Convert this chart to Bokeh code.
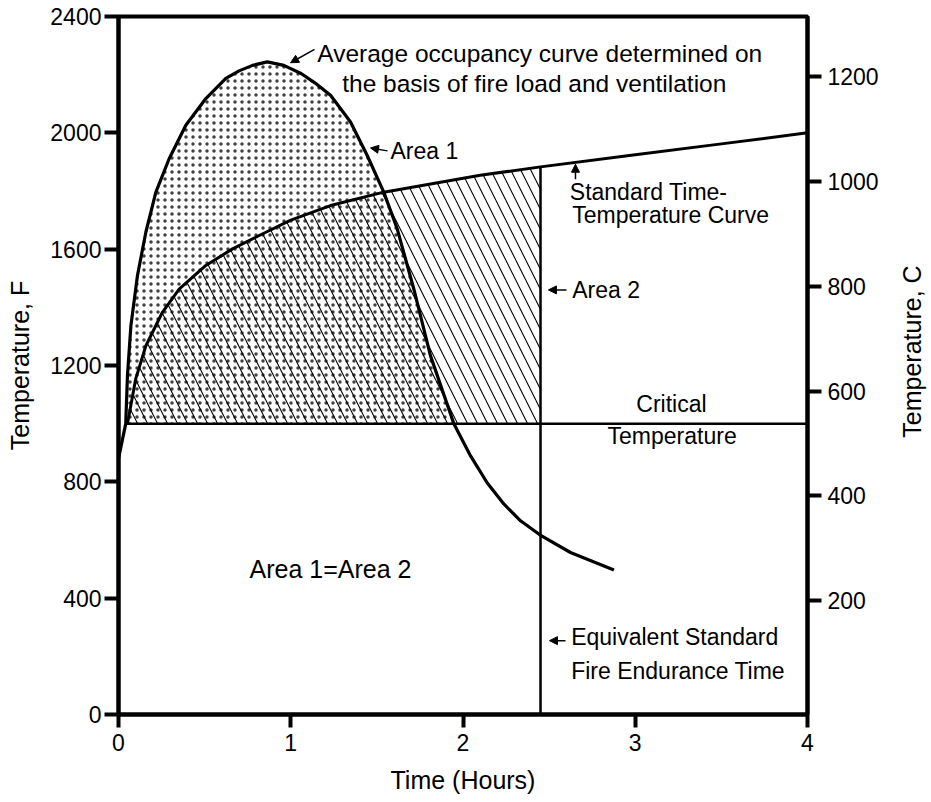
import math
import numpy as np
from bokeh.plotting import figure
from bokeh.layouts import row
from bokeh.models import Range1d, LinearAxis, FixedTicker, Label, Arrow, NormalHead
from bokeh.embed import file_html
from bokeh.resources import INLINE

# ---------------- data ----------------
# Average occupancy (design fire) curve, time in hours, temperature in F
fire_time = [0.0, 0.042, 0.052, 0.072, 0.11, 0.159, 0.217, 0.294, 0.391, 0.507,
             0.623, 0.70, 0.778, 0.864, 0.96, 1.06, 1.14, 1.231, 1.347, 1.444,
             1.54, 1.618, 1.714, 1.811, 1.947, 2.044, 2.141, 2.237, 2.334, 2.446,
             2.624, 2.876]
fire_temp = [880, 1000, 1165, 1337, 1509, 1659, 1796, 1911, 2026, 2118,
             2187, 2213, 2232, 2244, 2232, 2204, 2172, 2129, 2037, 1922,
             1796, 1670, 1464, 1234, 1000, 889, 796, 724, 666, 618,
             557, 497]

# Standard time-temperature curve
std_time = [0.052, 0.10, 0.159, 0.255, 0.352, 0.507, 0.662, 0.817, 1.0, 1.231,
            1.54, 2.10, 2.45, 3.0, 3.5, 4.0]
std_temp = [1000, 1154, 1268, 1383, 1463, 1544, 1601, 1647, 1700, 1750,
            1796, 1854, 1883, 1925, 1962, 2000]

critical_temp = 1000        # F
equivalent_time = 2.45      # hours

x_ticks = [0, 1, 2, 3, 4]
f_ticks = [0, 400, 800, 1200, 1600, 2000, 2400]
c_ticks = [200, 400, 600, 800, 1000, 1200]

FONT = "Liberation Sans"

# ---------------- main figure ----------------
p = figure(width=895, height=802, output_backend="svg", toolbar_location=None,
           x_range=Range1d(0, 4), y_range=Range1d(0, 2400),
           min_border_left=118, min_border_right=88, min_border_top=16,
           min_border_bottom=88)
p.extra_y_ranges = {"c": Range1d((0 - 32) / 1.8, (2400 - 32) / 1.8)}
p.xgrid.visible = False
p.ygrid.visible = False
p.outline_line_color = "black"
p.outline_line_width = 4
p.outline_line_alpha = 1
p.background_fill_color = "white"
p.border_fill_color = "white"

# Area 1 (dotted): fire curve above critical temperature
ft = np.array(fire_time)
ff = np.array(fire_temp)
m = ff >= critical_temp
a1x = list(ft[m]) + [ft[m][-1], ft[m][0]]
a1y = list(ff[m]) + [critical_temp, critical_temp]
p.patch(a1x, a1y, fill_color=None, line_color=None, hatch_pattern="dot",
        hatch_color="black", hatch_scale=7, hatch_weight=1, hatch_alpha=0.75)

# Area 2 (hatched): standard curve above critical up to equivalent time
st = np.array(std_time)
sf = np.array(std_temp)
m2 = st <= equivalent_time
a2x = list(st[m2]) + [equivalent_time, st[m2][0]]
a2y = list(sf[m2]) + [critical_temp, critical_temp]
p.patch(a2x, a2y, fill_color=None, line_color=None, hatch_pattern="\\",
        hatch_color="black", hatch_scale=20, hatch_weight=1.1)

# Lines
p.line(fire_time, fire_temp, line_color="black", line_width=3.2, line_join="round")
p.line(std_time, std_temp, line_color="black", line_width=3, line_join="round")
p.line([fire_time[1], 4], [critical_temp, critical_temp], line_color="black", line_width=2.5)
p.line([equivalent_time, equivalent_time],
       [0, float(np.interp(equivalent_time, std_time, std_temp))],
       line_color="black", line_width=2.5)

# ---------------- axes ----------------
right = LinearAxis(y_range_name="c")
p.add_layout(right, "right")

xa = p.xaxis[0]
ya = p.yaxis[0]
xa.ticker = FixedTicker(ticks=x_ticks)
ya.ticker = FixedTicker(ticks=f_ticks)
right.ticker = FixedTicker(ticks=c_ticks)
xa.axis_label = "Time (Hours)"
ya.axis_label = "Temperature, F"

for ax in (xa, ya, right):
    ax.axis_line_width = 4
    ax.axis_line_color = "black"
    ax.major_tick_line_width = 4
    ax.major_tick_line_color = "black"
    ax.major_tick_out = 14
    ax.major_tick_in = 0
    ax.minor_tick_out = 0
    ax.minor_tick_in = 0
    ax.minor_tick_line_color = None
    ax.major_label_text_font = FONT
    ax.major_label_text_font_size = "23px"
    ax.major_label_text_color = "black"
    ax.axis_label_text_font = FONT
    ax.axis_label_text_font_size = "25px"
    ax.axis_label_text_font_style = "normal"
    ax.axis_label_text_color = "black"

xa.major_tick_out = 13
xa.major_label_standoff = 6
xa.axis_label_standoff = 12
ya.major_label_standoff = 3
ya.axis_label_standoff = 13
right.major_label_standoff = 6

# ---------------- annotations ----------------
def lab(fig, x, y, text, size="23px", align="left", angle=0.0):
    fig.add_layout(Label(x=x, y=y, text=text, text_font=FONT, text_font_size=size,
                         text_baseline="middle", text_align=align, text_color="black",
                         angle=angle))

def arr(x0, y0, x1, y1):
    p.add_layout(Arrow(end=NormalHead(size=8, fill_color="black", line_color="black",
                                      line_width=1),
                       x_start=x0, y_start=y0, x_end=x1, y_end=y1,
                       line_color="black", line_width=1.5))

lab(p, 1.154, 2273, "Average occupancy curve determined on", size="24.5px")
lab(p, 1.299, 2170, "the basis of fire load and ventilation", size="24.5px")
arr(1.138, 2287, 0.999, 2241)

lab(p, 1.579, 1939, "Area 1")
arr(1.562, 1938, 1.463, 1948)

lab(p, 2.620, 1795, "Standard Time-")
lab(p, 2.634, 1716, "Temperature Curve")
arr(2.653, 1840, 2.653, 1892)

lab(p, 2.634, 1458, "Area 2")
arr(2.601, 1460, 2.496, 1460)

lab(p, 3.210, 1066, "Critical", align="center")
lab(p, 3.214, 956, "Temperature", align="center")

lab(p, 0.761, 502, "Area 1=Area 2", size="25px")

lab(p, 2.628, 265, "Equivalent Standard")
lab(p, 2.628, 151, "Fire Endurance Time")
arr(2.595, 254, 2.502, 254)

# ---------------- right-hand axis title (reads bottom to top) ----------------
q = figure(width=36, height=802, output_backend="svg", toolbar_location=None,
           x_range=Range1d(0, 1), y_range=Range1d(0, 1),
           x_axis_type=None, y_axis_type=None,
           min_border_left=0, min_border_right=0, min_border_top=0, min_border_bottom=0)
q.xgrid.visible = False
q.ygrid.visible = False
q.outline_line_color = None
q.background_fill_color = "white"
q.border_fill_color = "white"
lab(q, 0.47, 0.52, "Temperature, C", size="25px", align="center", angle=math.pi / 2)

layout = row(p, q, spacing=0)
open("out.html", "w").write(file_html(layout, INLINE))
